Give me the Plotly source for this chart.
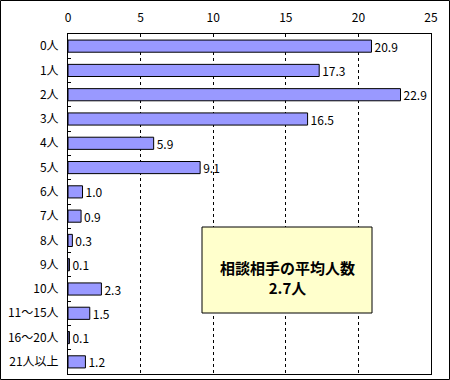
import plotly.graph_objects as go

categories = ["0人", "1人", "2人", "3人", "4人", "5人", "6人", "7人", "8人", "9人",
              "10人", "11〜15人", "16〜20人", "21人以上"]
values = [20.9, 17.3, 22.9, 16.5, 5.9, 9.1, 1.0, 0.9, 0.3, 0.1, 2.3, 1.5, 0.1, 1.2]
x_ticks = [0, 5, 10, 15, 20, 25]
box_text = "<b>相談相手の平均人数<br>2.7人</b>"

W, H = 450, 380
L, R, T, B = 68, 19, 34, 6
pw, ph = W - L - R, H - T - B

def px(x):
    return (x - L) / pw

def py(y):
    return (H - B - y) / ph

FONT = "Noto Sans CJK JP"

fig = go.Figure(go.Bar(
    x=values, y=categories, orientation="h",
    marker=dict(color="#9999FF", line=dict(color="black", width=1)),
    width=0.5,
    text=values, texttemplate="%{x:.1f}", textposition="outside",
    textfont=dict(family=FONT, size=12, color="black"),
    constraintext="none",
    cliponaxis=False,
    hoverinfo="skip",
))

fig.update_layout(
    width=W, height=H,
    margin=dict(l=L, r=R, t=T, b=B, autoexpand=False),
    paper_bgcolor="white", plot_bgcolor="white",
    showlegend=False,
    font=dict(family=FONT, size=11, color="black"),
    xaxis=dict(range=[0, 25], tickvals=x_ticks, side="top", showgrid=True,
               gridcolor="black", griddash="3px,3px", gridwidth=1,
               showline=True, linecolor="black", linewidth=1, mirror=True,
               zeroline=False, ticks="", ticklabelstandoff=6, automargin=False,
               tickfont=dict(size=12)),
    yaxis=dict(autorange="reversed", showline=True, linecolor="black", linewidth=1,
               mirror=True, ticks="inside", ticklen=3, tickcolor="black",
               tickson="boundaries", showgrid=False, ticklabelstandoff=6,
               automargin=False, tickfont=dict(size=12)),
    shapes=[
        dict(type="rect", xref="paper", yref="paper",
             x0=px(0.5), x1=px(449.5), y0=py(379.5), y1=py(0.5),
             line=dict(color="black", width=1), fillcolor="rgba(0,0,0,0)", layer="above"),
        dict(type="rect", xref="paper", yref="paper",
             x0=px(202), x1=px(372), y0=py(313), y1=py(227),
             line=dict(color="black", width=1), fillcolor="#FFFFCC", layer="above"),
    ],
    annotations=[
        dict(xref="paper", yref="paper", x=px(287), y=py(277), text=box_text,
             showarrow=False, font=dict(family=FONT, size=15, color="black"),
             align="center", xanchor="center", yanchor="middle"),
    ],
)

fig.write_html("out.html", config={"displayModeBar": False},
               post_script="document.body.style.margin='0';")
